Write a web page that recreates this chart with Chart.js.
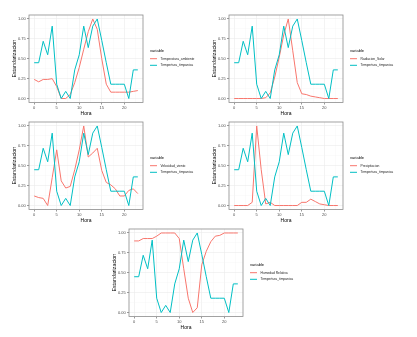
<!DOCTYPE html>
<html>
<head>
<meta charset="utf-8">
<script src="https://cdn.jsdelivr.net/npm/chart.js@4"></script>
<style>
  body { margin: 0; background: #fff; }
  #wrap { position: relative; width: 417px; height: 337px; overflow: hidden; }
  #wrap canvas { position: absolute; }
</style>
</head>
<body>
<div id="wrap"></div>
<script>
// Hourly standardized series (0-1), one panel per variable against tympanic temperature
const hora = [0, 1, 2, 3, 4, 5, 6, 7, 8, 9, 10, 11, 12, 13, 14, 15, 16, 17, 18, 19, 20, 21, 22, 23];

const tempTimpanica = [0.45, 0.45, 0.72, 0.55, 0.91, 0.18, 0.00, 0.09, 0.00, 0.36, 0.55, 0.91,
                       0.64, 0.91, 1.00, 0.73, 0.45, 0.18, 0.18, 0.18, 0.18, 0.00, 0.36, 0.36];
const tempAmbiente = [0.24, 0.21, 0.24, 0.24, 0.25, 0.15, 0.00, 0.00, 0.05, 0.20, 0.39, 0.62,
                      0.84, 1.00, 0.87, 0.50, 0.18, 0.08, 0.08, 0.08, 0.08, 0.08, 0.09, 0.10];
const radiacionSolar = [0, 0, 0, 0, 0, 0, 0, 0.01, 0.07, 0.27, 0.52, 0.80,
                        1.00, 0.60, 0.20, 0.06, 0.05, 0.03, 0.02, 0.01, 0, 0, 0, 0];
const velocidadViento = [0.12, 0.10, 0.09, 0.00, 0.35, 0.70, 0.31, 0.22, 0.24, 0.45, 0.70, 1.00,
                         0.61, 0.66, 0.72, 0.44, 0.29, 0.26, 0.21, 0.12, 0.12, 0.19, 0.21, 0.15];
const precipitacion = [0, 0, 0, 0, 0.04, 1.00, 0.45, 0.02, 0.04, 0, 0, 0,
                       0, 0, 0, 0.04, 0.04, 0.08, 0.05, 0.02, 0.01, 0, 0, 0];
const humedadRelativa = [0.90, 0.90, 0.93, 0.93, 0.93, 0.96, 1.00, 1.00, 1.00, 1.00, 0.93, 0.55,
                         0.18, 0.00, 0.06, 0.60, 0.77, 0.89, 0.96, 0.97, 1.00, 1.00, 1.00, 1.00];

// Grid positions; only majors get labels
const xTicks = [0, 2.5, 5, 7.5, 10, 12.5, 15, 17.5, 20, 22.5];
const xMajor = [0, 5, 10, 15, 20];
const yTicks = [0, 0.125, 0.25, 0.375, 0.5, 0.625, 0.75, 0.875, 1];
const yMajor = [0, 0.25, 0.5, 0.75, 1];

const panels = [
  { label: 'Temperatura_ambiente', values: tempAmbiente,    left: 0,   top: 0 },
  { label: 'Radiacion_Solar',      values: radiacionSolar,  left: 200, top: 0 },
  { label: 'Velocidad_viento',     values: velocidadViento, left: 0,   top: 107 },
  { label: 'Precipitacion',        values: precipitacion,   left: 200, top: 107 },
  { label: 'Humedad Relativa',     values: humedadRelativa, left: 100, top: 214 },
];

const COLORS = {
  red: '#F8766D',
  teal: '#00BFC4',
  border: '#8c8c8c',
  gridMajor: '#EBEBEB',
  gridMinor: '#F4F4F4',
  tick: '#555555',
  tickLabel: '#4D4D4D',
};
const FONT = 'Liberation Sans, Arial, sans-serif';

const W = 208, H = 120;

// Box around the plotting area (theme_bw style)
const panelBorder = {
  id: 'panelBorder',
  afterDraw(chart) {
    const { ctx, chartArea: a } = chart;
    ctx.save();
    ctx.strokeStyle = COLORS.border;
    ctx.lineWidth = 0.8;
    ctx.strokeRect(a.left, a.top, a.right - a.left, a.bottom - a.top);
    ctx.restore();
  }
};

// Right-hand legend: title plus a line key per dataset
const sideLegend = {
  id: 'sideLegend',
  afterDraw(chart) {
    const ctx = chart.ctx;
    const x = chart.chartArea.right + 7;
    ctx.save();
    ctx.textBaseline = 'middle';
    ctx.textAlign = 'left';
    ctx.fillStyle = '#000';
    ctx.font = '4px ' + FONT;
    ctx.fillText('variable', x, 51);
    ctx.font = '3.3px ' + FONT;
    chart.data.datasets.forEach((ds, i) => {
      const y = 58.7 + i * 6.6;
      ctx.strokeStyle = ds.borderColor;
      ctx.lineWidth = 1;
      ctx.beginPath();
      ctx.moveTo(x, y);
      ctx.lineTo(x + 7, y);
      ctx.stroke();
      ctx.fillStyle = '#1a1a1a';
      ctx.fillText(ds.label, x + 10.5, y);
    });
    ctx.restore();
  }
};

const toPoints = vals => vals.map((v, i) => ({ x: hora[i], y: v }));

panels.forEach(p => {
  const canvas = document.createElement('canvas');
  canvas.width = W;
  canvas.height = H;
  canvas.style.left = p.left + 'px';
  canvas.style.top = p.top + 'px';
  document.getElementById('wrap').appendChild(canvas);

  new Chart(canvas, {
    type: 'line',
    data: {
      datasets: [
        {
          label: p.label,
          data: toPoints(p.values),
          borderColor: COLORS.red,
          borderWidth: 1,
          pointRadius: 0,
          tension: 0,
          order: 1
        },
        {
          label: 'Tempertura_timpanica',
          data: toPoints(tempTimpanica),
          borderColor: COLORS.teal,
          borderWidth: 1,
          pointRadius: 0,
          tension: 0,
          order: 0
        }
      ]
    },
    options: {
      responsive: false,
      animation: false,
      devicePixelRatio: 1,
      layout: { padding: { top: 15, right: W - 143, left: 0, bottom: 0 } },
      plugins: {
        legend: { display: false },
        tooltip: { enabled: false }
      },
      scales: {
        x: {
          type: 'linear',
          min: -1.15,
          max: 24.15,
          afterBuildTicks: axis => { axis.ticks = xTicks.map(v => ({ value: v })); },
          afterFit: axis => { axis.height = H - 102.5; },
          grid: {
            color: ctx => xMajor.includes(ctx.tick.value) ? COLORS.gridMajor : COLORS.gridMinor,
            lineWidth: ctx => xMajor.includes(ctx.tick.value) ? 0.6 : 0.4,
            tickColor: ctx => xMajor.includes(ctx.tick.value) ? COLORS.tick : 'rgba(0,0,0,0)',
            tickLength: 2
          },
          border: { display: false },
          ticks: {
            autoSkip: false,
            maxRotation: 0,
            padding: 1.2,
            color: COLORS.tickLabel,
            font: { family: FONT, size: 4 },
            callback: v => xMajor.includes(v) ? String(v) : ''
          },
          title: {
            display: true,
            text: 'Hora',
            color: '#000',
            font: { family: FONT, size: 5 },
            padding: { top: 0, bottom: 3 }
          }
        },
        y: {
          min: -0.05,
          max: 1.05,
          afterBuildTicks: axis => { axis.ticks = yTicks.map(v => ({ value: v })); },
          afterFit: axis => { axis.width = 29; },
          grid: {
            color: ctx => yMajor.includes(ctx.tick.value) ? COLORS.gridMajor : COLORS.gridMinor,
            lineWidth: ctx => yMajor.includes(ctx.tick.value) ? 0.6 : 0.4,
            tickColor: ctx => yMajor.includes(ctx.tick.value) ? COLORS.tick : 'rgba(0,0,0,0)',
            tickLength: 2
          },
          border: { display: false },
          ticks: {
            autoSkip: false,
            padding: 1.3,
            color: COLORS.tickLabel,
            font: { family: FONT, size: 4 },
            callback: v => yMajor.includes(v) ? v.toFixed(2) : ''
          },
          title: {
            display: true,
            text: 'Estandarizacion',
            color: '#000',
            font: { family: FONT, size: 5.3 },
            padding: { top: 11, bottom: 0 }
          }
        }
      }
    },
    plugins: [panelBorder, sideLegend]
  });
});
</script>
</body>
</html>
